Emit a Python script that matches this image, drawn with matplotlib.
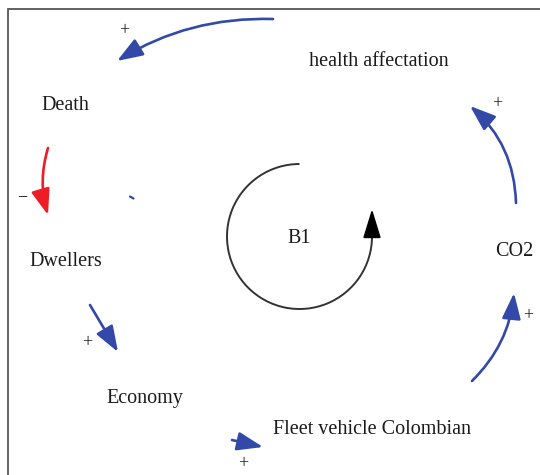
# Diagrama causal (bucle B1): flota vehicular -> CO2 -> salud -> muertes -> habitantes -> economia
import numpy as np
import matplotlib; matplotlib.use("Agg")
import matplotlib.pyplot as plt
from matplotlib.patches import FancyArrowPatch, Arc, Polygon

W, H = 540, 475
BLUE = "#3349a8"
RED = "#ee1c25"

# nodos (texto, posicion en pixeles)
nodos = ["health affectation", "Death", "Dwellers", "Economy", "Fleet vehicle Colombian", "CO2"]
nodos_xy = [(379, 62), (65, 106), (66, 262), (145, 399), (372, 429), (514, 251)]

# enlaces: inicio, punta, curvatura, color
enl_ini = [(273, 19), (48, 148), (90, 305), (232, 440), (472, 381), (516, 203)]
enl_fin = [(117, 61), (48, 215), (118, 352), (263, 447), (514, 293), (470, 106)]
enl_rad = [0.15, 0.15, 0.0, 0.0, 0.18, 0.22]
enl_col = [BLUE, RED, BLUE, BLUE, BLUE, BLUE]

# polaridades
signos = ["+", "\u2212", "+", "+", "+", "+"]
signos_xy = [(124, 31), (22, 197), (87, 343), (243, 464), (528, 316), (497, 104)]

# bucle B1
B1_C, B1_R = (299.5, 236.5), 72.5

fig = plt.figure(figsize=(W / 100, H / 100), dpi=100)
ax = fig.add_axes([0, 0, 1, 1])
ax.set_xlim(0, W); ax.set_ylim(H, 0)
ax.axis("off")

# marco (solo izquierda y arriba)
ax.plot([7.5, 7.5, W], [H, 8.5, 8.5], color="#555555", lw=1.3, solid_joinstyle="miter")

font = dict(family="Liberation Serif", fontsize=14.5, color="#1a1a1a", ha="center", va="center")
for t, (x, y) in zip(nodos, nodos_xy):
    ax.text(x, y, t, **font)

for a, b, r, c in zip(enl_ini, enl_fin, enl_rad, enl_col):
    ax.add_patch(FancyArrowPatch(a, b, connectionstyle=f"arc3,rad={r}",
                                 arrowstyle="-|>,head_length=1.05,head_width=0.38",
                                 mutation_scale=15, color=c, lw=1.9, shrinkA=0, shrinkB=0))

for s, (x, y) in zip(signos, signos_xy):
    ax.text(x, y, s, family="Liberation Serif", fontsize=13, color="#1a1a1a", ha="center", va="center")

# marca suelta azul
ax.plot([130, 133.5], [196.5, 198.5], color=BLUE, lw=1.6, solid_capstyle="round")

# circulo B1 con flecha
ax.add_patch(Arc(B1_C, 2 * B1_R, 2 * B1_R, theta1=0, theta2=270, color="#333333", lw=1.4))
cx, cy = B1_C
ax.add_patch(Polygon([(cx + B1_R, cy - 25), (cx + B1_R - 8, cy + 1), (cx + B1_R + 8, cy + 1)],
                     closed=True, color="black"))
ax.text(cx, cy + 2, "B1", **font)

fig.savefig("out.png", dpi=100)
